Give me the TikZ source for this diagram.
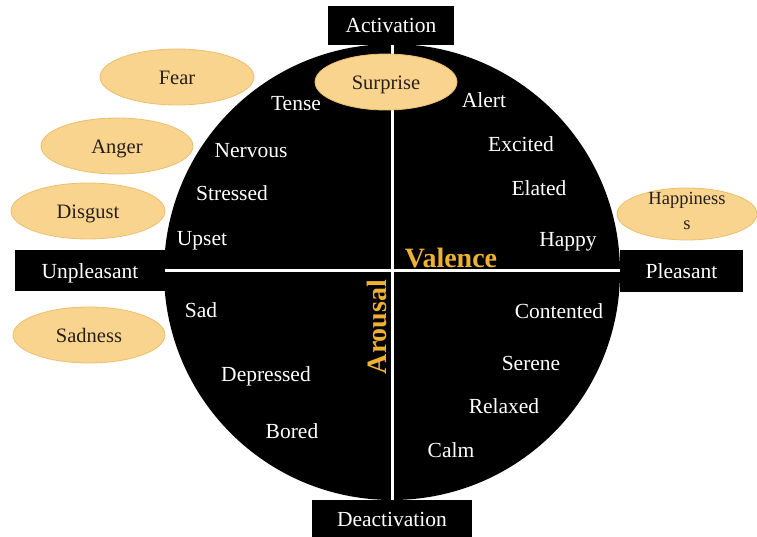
\documentclass[tikz,border=0pt]{standalone}
\usepackage{fontspec}
\setmainfont{Liberation Serif}
\usetikzlibrary{shapes.geometric}
\definecolor{emofill}{RGB}{249,212,142}
\definecolor{emoedge}{RGB}{236,190,110}
\definecolor{gold}{RGB}{236,178,48}
\definecolor{emotext}{RGB}{40,30,25}
\tikzset{
  axisbox/.style={fill=black, text=white, inner sep=0pt, text height=15pt, text depth=0pt,
    font=\fontsize{21.5}{24}\selectfont},
  emo/.style={ellipse, fill=emofill, draw=emoedge, line width=0.8pt, inner sep=0pt,
    text=emotext, text height=15pt, text depth=0pt, font=\fontsize{20.5}{24}\selectfont},
  mood/.style={text=white, anchor=base, inner sep=0pt, font=\fontsize{21.5}{24}\selectfont},
  axisname/.style={text=gold, anchor=base, inner sep=0pt, font=\bfseries\fontsize{28}{30}\selectfont},
  axisline/.style={draw=white, line width=3pt}
}
\begin{document}
\begin{tikzpicture}[x=1pt, y=-1pt]
\useasboundingbox (0,0) rectangle (757,537);
% circle
\node[circle, fill=black, minimum size=456pt, inner sep=0pt] (disc) at (392,272) {};
% axis boxes
\node[axisbox, minimum width=126pt, minimum height=39pt] (act) at (391,25.5) {Activation};
\node[axisbox, minimum width=160pt, minimum height=37pt] (deact) at (392,518.5) {Deactivation};
\node[axisbox, minimum width=150pt, minimum height=41pt] (unp) at (90,270.5) {Unpleasant};
\node[axisbox, minimum width=123pt, minimum height=42pt] (pl) at (681.5,271) {Pleasant};
% axes
\draw[axisline] (act.south -| disc.center) -- (deact.north -| disc.center);
\draw[axisline] (unp.east |- 0,270) -- (pl.west |- 0,270);
% axis names
\node[axisname] (val) at (451,267) {Valence};
\node[axisname, rotate=90] (aro) at (386,327) {Arousal};
% mood words
\node[mood] (tense) at (296,111) {Tense};
\node[mood] (nervous) at (251,158) {Nervous};
\node[mood] (stressed) at (232,201) {Stressed};
\node[mood] (upset) at (202,246) {Upset};
\node[mood] (alert) at (484,108) {Alert};
\node[mood] (excited) at (521,152) {Excited};
\node[mood] (elated) at (539,196) {Elated};
\node[mood] (happy) at (568,247) {Happy};
\node[mood] (sad) at (201,317) {Sad};
\node[mood] (depressed) at (266,381) {Depressed};
\node[mood] (bored) at (292,438) {Bored};
\node[mood] (contented) at (559,318) {Contented};
\node[mood] (serene) at (531,370) {Serene};
\node[mood] (relaxed) at (504,413) {Relaxed};
\node[mood] (calm) at (451,457) {Calm};
% emotions
\node[emo, minimum width=154pt, minimum height=56pt] (fear) at (177,77) {Fear};
\node[emo, minimum width=152pt, minimum height=56pt] (anger) at (117,146) {Anger};
\node[emo, minimum width=154pt, minimum height=56pt] (disgust) at (88,211) {Disgust};
\node[emo, minimum width=152pt, minimum height=56pt] (sadness) at (89,335) {Sadness};
\node[emo, minimum width=142pt, minimum height=56pt] (surprise) at (386,82) {Surprise};
\node[emo, minimum width=140pt, minimum height=52pt, text height=0pt, text depth=0pt,
  font=\fontsize{18.5}{25}\selectfont] (happiness) at (687,214)
  {\smash{\raisebox{-16pt}{\setlength{\tabcolsep}{0pt}\begin{tabular}[b]{c}Happiness\\s\end{tabular}}}};
\end{tikzpicture}
\end{document}
